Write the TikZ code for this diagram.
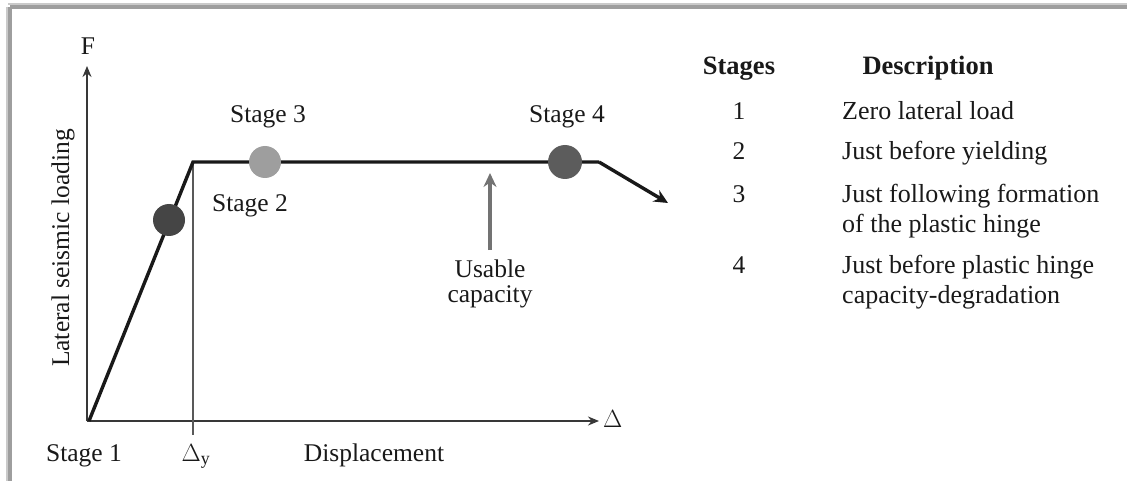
\documentclass[tikz,border=0pt]{standalone}
\usepackage{fontspec}
\setmainfont{Liberation Serif}
\usetikzlibrary{arrows.meta}
\definecolor{frame}{gray}{0.62}
\definecolor{curve}{gray}{0.10}
\definecolor{axisc}{gray}{0.22}
\definecolor{dotA}{gray}{0.27}
\definecolor{dotB}{gray}{0.62}
\definecolor{dotC}{gray}{0.36}
\definecolor{usable}{gray}{0.45}
\begin{document}
\begin{tikzpicture}[x=1pt,y=-1pt,
  lbl/.style={font=\fontsize{25.5}{30}\selectfont, anchor=base, inner sep=0pt, text=black!90},
  hd/.style={lbl, font=\fontsize{26.5}{30}\selectfont\bfseries},
  desc/.style={lbl, anchor=base west, font=\fontsize{26}{30}\selectfont},
  dot/.style={circle, inner sep=0pt, minimum size=#1},
  axisline/.style={draw=axisc, line width=2.5pt, -{Stealth[length=11pt,width=9pt]}},
  curveline/.style={draw=curve, line width=3.4pt, line join=miter}]
\useasboundingbox (0,0) rectangle (1127,481);
% frame
\draw[frame!55, line width=2pt] (8,4) -- (1127,4);
\draw[frame, line width=3.5pt] (10,7) -- (1127,7);
\draw[frame!55, line width=2pt] (7,7) -- (7,481);
\draw[frame, line width=3.5pt] (10,7) -- (10,481);
% axes
\coordinate (O) at (87,421);
\coordinate (Ytop) at (87,66);
\coordinate (Xend) at (599,421);
\draw[axisline] (O) -- (Ytop);
\draw[axisline] (O) -- (Xend);
\node[lbl] (F) at (88,55) {F};
\node[lbl, anchor=west] (D) at (603,419) {$\Delta$};
% yield line
\coordinate (Y1) at (193,162);
\coordinate (Ybot) at (193,435);
\draw[draw=gray!70!black, line width=1.5pt] (Y1) -- (Ybot);
% curve
\coordinate (C0) at (89,421);
\coordinate (C2) at (599,162);
\coordinate (Cend) at (668,203);
\draw[curveline] (C0) -- (Y1) -- (C2);
\draw[curveline, -{Stealth[length=14pt,width=13pt]}] (C2) -- (Cend);
% dots
\node[dot=32, fill=dotA] (S2) at (169,220) {};
\node[dot=32, fill=dotB] (S3) at (265,162) {};
\node[dot=34, fill=dotC] (S4) at (565,162) {};
% usable arrow
\coordinate (Ubot) at (490,250);
\coordinate (Utop) at (490,173);
\draw[draw=usable, line width=3.4pt, -{Stealth[length=14pt,width=13pt]}] (Ubot) -- (Utop);
\node[lbl] (U1) at (490,277) {Usable};
\node[lbl] (U2) at (490,302) {capacity};
% labels
\node[lbl] (L3) at (268,123) {Stage 3};
\node[lbl] (L2) at (250,212) {Stage 2};
\node[lbl] (L4) at (567,123) {Stage 4};
\node[lbl] (L1) at (84,461) {Stage 1};
\node[lbl] (Dy) at (196,461) {$\Delta_{\mathrm{y}}$};
\node[lbl] (Disp) at (374,461) {Displacement};
\node[lbl, rotate=90] (YL) at (69,248) {Lateral seismic loading};
% table
\node[hd] (H1) at (739,75) {Stages};
\node[hd] (H2) at (928,75) {Description};
\node[lbl] (N1) at (739,120) {1};
\node[lbl] (N2) at (739,160) {2};
\node[lbl] (N3) at (739,203) {3};
\node[lbl] (N4) at (739,273) {4};
\node[desc] (T1) at (842,120) {Zero lateral load};
\node[desc] (T2) at (842,160) {Just before yielding};
\node[desc] (T3) at (842,203) {Just following formation};
\node[desc] (T3b) at (842,233) {of the plastic hinge};
\node[desc] (T4) at (842,273) {Just before plastic hinge};
\node[desc] (T4b) at (842,303) {capacity-degradation};
\end{tikzpicture}
\end{document}
